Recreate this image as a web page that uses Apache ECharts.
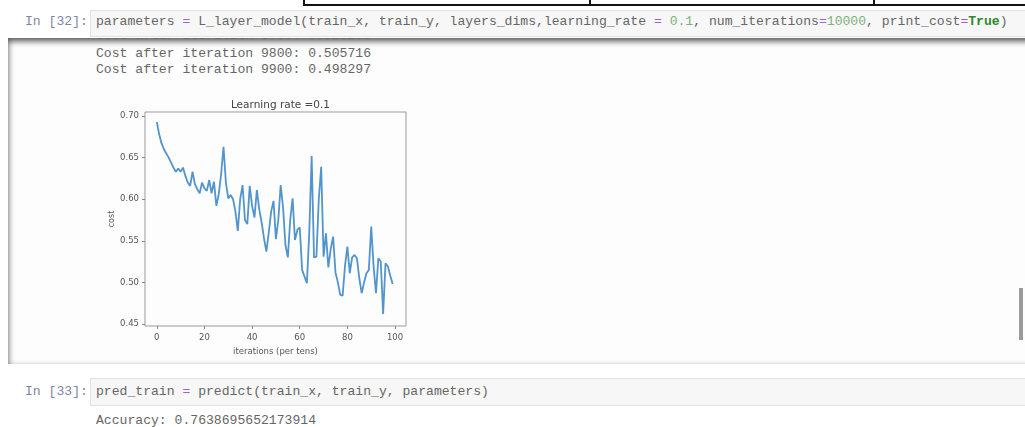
<!DOCTYPE html>
<html>
<head>
<meta charset="utf-8">
<script src="https://cdn.jsdelivr.net/npm/echarts@6/dist/echarts.min.js"></script>
<style>
  html, body { margin:0; padding:0; background:#ffffff; }
  body { width:1025px; height:427px; overflow:hidden; position:relative;
         font-family:"Liberation Mono","DejaVu Sans Mono",monospace; font-size:13.1px; color:#666666; }
  .abs { position:absolute; white-space:pre; }
  .prompt { color:#7c86a6; }
  .inbox { position:absolute; background:#f7f7f7; border:1px solid #e2e2e2; }
  .op { color:#a55fd6; }
  .num { color:#7ab37a; }
  .kw { color:#2e8b2e; font-weight:bold; }
  #outbox { position:absolute; left:8px; top:38px; width:1040px; height:326px; overflow:hidden;
            background:#fdfdfd; box-shadow: inset 0 3px 6px rgba(0,0,0,0.7); }
  #chart { position:absolute; left:0; top:0; width:1025px; height:427px; }
</style>
</head>
<body>
<!-- fragment of a table above the cell -->
<div class="abs" style="left:303px;top:0;width:730px;height:4px;border-left:2px solid #111;border-bottom:2px solid #111;"></div>
<div class="abs" style="left:589px;top:0;width:2px;height:6px;background:#111;"></div>
<div class="abs" style="left:873px;top:0;width:2px;height:6px;background:#111;"></div>

<div class="abs prompt" style="left:25px;top:14px;">In [32]:</div>
<div class="inbox" style="left:90px;top:10px;width:940px;height:25px;"></div>
<div class="abs" style="left:96px;top:14px;">parameters <span class="op">=</span> L_layer_model(train_x, train_y, layers_dims,learning_rate <span class="op">=</span> <span class="num">0.1</span>, num_iterations<span class="op">=</span><span class="num">10000</span>, print_cost<span class="op">=</span><span class="kw">True</span>)</div>

<div id="outbox">
  <div class="abs" style="left:88px;top:-10px;">Cost after iteration 9700: 0.513158</div>
  <div class="abs" style="left:88px;top:8px;">Cost after iteration 9800: 0.505716</div>
  <div class="abs" style="left:88px;top:24px;">Cost after iteration 9900: 0.498297</div>
</div>
<div class="abs" style="left:1019px;top:288px;width:4px;height:52px;background:#9a9a9a;"></div>

<div class="abs prompt" style="left:25px;top:384px;">In [33]:</div>
<div class="inbox" style="left:90px;top:378px;width:940px;height:26px;"></div>
<div class="abs" style="left:96px;top:384px;">pred_train <span class="op">=</span> predict(train_x, train_y, parameters)</div>
<div class="abs" style="left:96px;top:413px;">Accuracy: 0.7638695652173914</div>

<div id="chart"></div>
<script>
// iterations (per tens)
var iterations = [];
for (var k = 0; k < 100; k++) iterations.push(k);
// cost
var cost = [
  0.693,0.678,0.667,0.660,0.655,0.650,0.644,0.638,0.633,0.637,
  0.633,0.638,0.628,0.620,0.616,0.633,0.618,0.612,0.607,0.620,
  0.613,0.610,0.623,0.607,0.621,0.592,0.606,0.630,0.663,0.620,
  0.601,0.605,0.600,0.585,0.562,0.600,0.617,0.575,0.570,0.616,
  0.592,0.578,0.611,0.588,0.572,0.553,0.537,0.560,0.585,0.598,
  0.552,0.575,0.617,0.590,0.545,0.530,0.575,0.601,0.551,0.563,
  0.566,0.515,0.507,0.499,0.560,0.652,0.530,0.531,0.600,0.639,
  0.531,0.559,0.518,0.540,0.555,0.512,0.500,0.485,0.484,0.520,
  0.543,0.511,0.530,0.533,0.529,0.505,0.487,0.500,0.511,0.515,
  0.567,0.519,0.487,0.529,0.525,0.462,0.523,0.519,0.508,0.498
];
var xTicks = [0, 20, 40, 60, 80, 100];
var yTicks = [0.45, 0.50, 0.55, 0.60, 0.65, 0.70];
var titleText = 'Learning rate =0.1';
var xName = 'iterations (per tens)';
var yName = 'cost';

var chart = echarts.init(document.getElementById('chart'), null, {renderer:'canvas'});
var labelFont = 'DejaVu Sans';
chart.setOption({
  animation: false,
  backgroundColor: 'transparent',
  title: {
    text: titleText, left: 275.5, top: 95, textAlign: 'center',
    textStyle: { fontSize: 10.5, fontWeight: 'normal', color: '#444', fontFamily: labelFont }
  },
  grid: { left: 145, top: 112, width: 261, height: 214, show: true,
          borderColor: '#9a9a9a', borderWidth: 1, backgroundColor: 'transparent' },
  xAxis: {
    type: 'value', min: -4.95, max: 104.6, position: 'bottom',
    axisLine: { show: false, onZero: false }, splitLine: { show: false },
    axisTick: { show: true, inside: false, length: 3, customValues: xTicks, lineStyle: { color: '#888' } },
    axisLabel: { customValues: xTicks, fontSize: 8.5, color: '#555', margin: 7, fontFamily: labelFont },
    name: xName, nameLocation: 'middle', nameGap: 20,
    nameTextStyle: { fontSize: 8.5, color: '#555', fontFamily: labelFont }
  },
  yAxis: {
    type: 'value', min: 0.4476, max: 0.7048, position: 'left',
    axisLine: { show: false, onZero: false }, splitLine: { show: false },
    axisTick: { show: true, inside: false, length: 3, customValues: yTicks, lineStyle: { color: '#888' } },
    axisLabel: { customValues: yTicks, fontSize: 8.5, color: '#555', margin: 6, fontFamily: labelFont,
                 formatter: function (v) { return v.toFixed(2); } },
    name: yName, nameLocation: 'middle', nameGap: 29, nameRotate: 90,
    nameTextStyle: { fontSize: 8, color: '#555', fontFamily: labelFont }
  },
  series: [{
    type: 'line', showSymbol: false, smooth: false,
    data: iterations.map(function (x, i) { return [x, cost[i]]; }),
    lineStyle: { width: 1.8, color: '#5294cc' }
  }]
});
</script>
</body>
</html>
